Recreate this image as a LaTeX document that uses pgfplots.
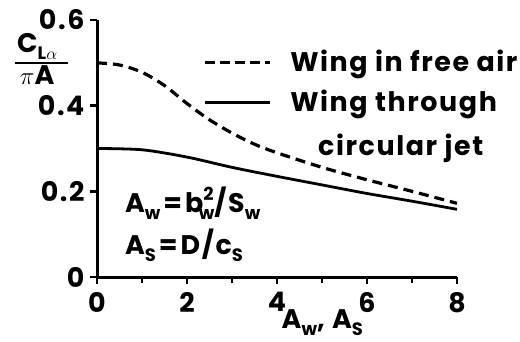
\documentclass[border=0pt]{standalone}
\usepackage{fontspec}
\setmainfont{Poppins}
\usepackage{pgfplots}
\pgfplotsset{compat=1.18}
\newcommand{\lbl}{\fontsize{27}{31}\selectfont\bfseries\addfontfeatures{LetterSpace=6}}
\newcommand{\lo}[1]{\raisebox{-0.45ex}{\fontsize{18}{18}\selectfont\bfseries #1}}
\newcommand{\hi}[1]{\raisebox{0.85ex}{\fontsize{18}{18}\selectfont\bfseries #1}}
\begin{document}
\begin{tikzpicture}
\begin{axis}[
  name=ax,
  scale only axis, width=360bp, height=257bp,
  xmin=0, xmax=8, ymin=0, ymax=0.6,
  axis lines*=left,
  axis line style={line width=3bp},
  clip=false,
  xtick={0,2,4,6,8},
  minor xtick={1,3,5,7},
  ytick={0,0.2,0.4,0.6},
  yticklabels={0,0.2,0.4,0.6},
  tick align=outside,
  major tick length=7bp, minor tick length=6bp,
  xtick style={draw=black, line width=2.5bp},
  ytick style={draw=black, line width=2.5bp},
  tick label style={font=\lbl},
  xticklabel style={yshift=-5bp},
  yticklabel style={xshift=-2bp},
  /pgf/number format/assume math mode=true,
]
% wing in free air
\addplot[black, line width=3.2bp, dash pattern=on 10bp off 6bp, smooth]
  coordinates {(0,0.500) (0.5,0.495) (1,0.478) (1.5,0.447) (2,0.405) (2.5,0.367)
               (3,0.336) (3.5,0.310) (4,0.290) (5,0.256) (6,0.227) (7,0.200) (8,0.172)};
% wing through circular jet
\addplot[black, line width=2.8bp, smooth]
  coordinates {(0,0.300) (1,0.297) (2,0.280) (3,0.256) (4,0.235) (5,0.215)
               (6,0.195) (7,0.177) (8,0.158)};

% tick marks, drawn heavy like the axis lines
\pgfplotsinvokeforeach{0,2,4,6,8}{\draw[line width=2.5bp] (axis cs:#1,0) -- ++(0,-7bp);}
\pgfplotsinvokeforeach{1,3,5,7}{\draw[line width=2.5bp] (axis cs:#1,0) -- ++(0,-6bp);}
\pgfplotsinvokeforeach{0,0.2,0.4,0.6}{\draw[line width=2.5bp] (axis cs:0,#1) -- ++(-7bp,0);}

% key
\draw[black, line width=3.2bp, dash pattern=on 10bp off 5bp] (axis cs:2.4,0.5) -- (axis cs:3.84,0.5);
\draw[black, line width=2.8bp] (axis cs:2.4,0.4065) -- (axis cs:3.84,0.4065);
\node[anchor=base west, inner sep=0pt, font=\lbl] at (axis cs:4.29,0.479) {Wing in free air};
\node[anchor=base west, inner sep=0pt, font=\lbl] at (axis cs:4.29,0.3855) {Wing through};
\node[anchor=base west, inner sep=0pt, font=\lbl] at (axis cs:4.91,0.283) {circular jet};

% definitions of aspect ratio
\node[anchor=base west, inner sep=0pt, font=\lbl] at (axis cs:0.62,0.1495)
  {A\lo{w}\kern3bp=\kern3bp b\hi{2}\kern-0.55em\lo{w}/S\lo{w}};
\node[anchor=base west, inner sep=0pt, font=\lbl] at (axis cs:0.62,0.0514)
  {A\lo{S}\kern3bp=\kern3bp D/c\lo{S}};

% axis titles
\node[anchor=base west, inner sep=0pt, font=\lbl] at (axis cs:4.1,-0.121)
  {A\lo{w}, A\lo{S}};
\node[anchor=south, inner sep=0pt, font=\lbl] at (axis cs:-1.33,0.507) {C\lo{L\ensuremath{\alpha}}};
\node[anchor=north, inner sep=0pt, font=\lbl] at (axis cs:-1.33,0.493) {\ensuremath{\pi}A};
\draw[black, line width=2.5bp] (axis cs:-1.83,0.50) -- (axis cs:-0.64,0.50);
\end{axis}
\pgfresetboundingbox
\path[use as bounding box] ([xshift=-97bp,yshift=-64bp]ax.south west) rectangle ([xshift=63bp,yshift=20bp]ax.north east);
\end{tikzpicture}
\end{document}
